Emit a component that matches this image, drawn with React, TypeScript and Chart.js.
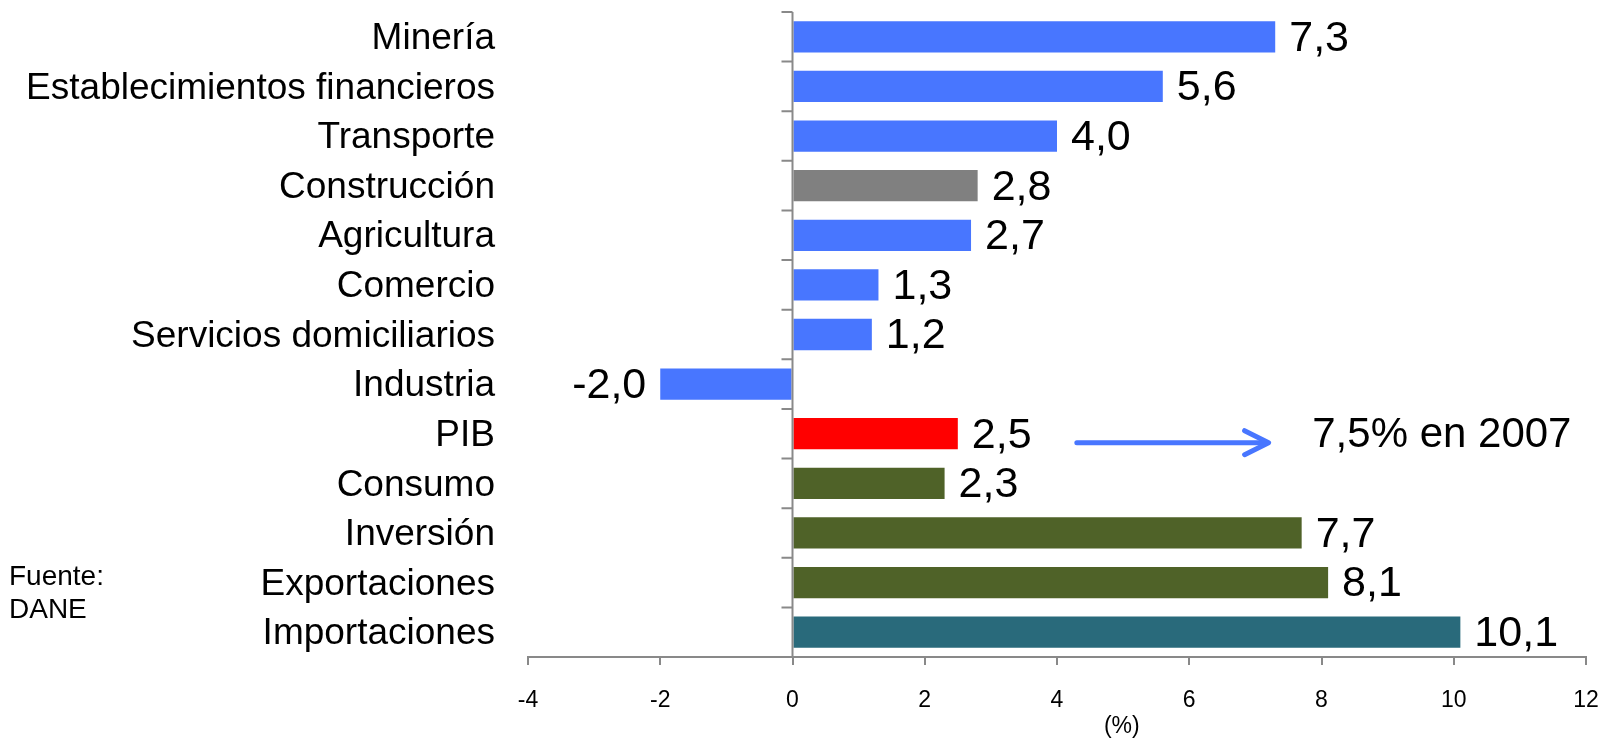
import { useEffect, useRef } from 'react';
import { Chart, registerables } from 'chart.js';

Chart.register(...registerables);

const categories = [
  'Minería',
  'Establecimientos financieros',
  'Transporte',
  'Construcción',
  'Agricultura',
  'Comercio',
  'Servicios domiciliarios',
  'Industria',
  'PIB',
  'Consumo',
  'Inversión',
  'Exportaciones',
  'Importaciones',
];
const values = [7.3, 5.6, 4.0, 2.8, 2.7, 1.3, 1.2, -2.0, 2.5, 2.3, 7.7, 8.1, 10.1];
const BLUE = '#4876FF';
const barColors = [
  BLUE, BLUE, BLUE, '#808080', BLUE, BLUE, BLUE, BLUE,
  '#FF0000', '#4F6228', '#4F6228', '#4F6228', '#296A7B',
];
const xMin = -4;
const xMax = 12;
const xStep = 2;
const axisTitle = '(%)';
const annotationText = '7,5% en 2007';
const annotationCategory = 'PIB';
const sourceLines = ['Fuente:', 'DANE'];

const FONT = '"Liberation Sans", Arial, sans-serif';
const AXIS_COLOR = '#898989';

const fmt = (v: number) => v.toFixed(1).replace('.', ',');

const overlayPlugin = {
  id: 'overlay',
  afterDatasetsDraw(chart: any) {
    const { ctx, chartArea, scales } = chart;
    const x = scales.x;
    const y = scales.y;
    const x0 = x.getPixelForValue(0);
    ctx.save();
    // vertical axis at zero with category-boundary ticks
    ctx.strokeStyle = AXIS_COLOR;
    ctx.lineWidth = 2;
    ctx.beginPath();
    ctx.moveTo(x0, chartArea.top);
    ctx.lineTo(x0, chartArea.bottom);
    const n = categories.length;
    const band = (chartArea.bottom - chartArea.top) / n;
    for (let k = 0; k < n; k++) {
      const yy = chartArea.top + k * band;
      ctx.moveTo(x0 - 11, yy);
      ctx.lineTo(x0, yy);
    }
    ctx.stroke();

    // category labels
    ctx.fillStyle = '#000';
    ctx.font = `37px ${FONT}`;
    ctx.textAlign = 'right';
    ctx.textBaseline = 'middle';
    categories.forEach((c, i) => {
      ctx.fillText(c, chartArea.left - 33, y.getPixelForValue(i) + 2);
    });

    // x tick labels
    ctx.font = `23px ${FONT}`;
    ctx.textAlign = 'center';
    x.ticks.forEach((t: any) => {
      ctx.fillText(String(t.value), x.getPixelForValue(t.value), chartArea.bottom + 44);
    });

    // data labels
    const meta = chart.getDatasetMeta(0);
    ctx.font = `43px ${FONT}`;
    meta.data.forEach((el: any, i: number) => {
      const v = values[i];
      if (v >= 0) {
        ctx.textAlign = 'left';
        ctx.fillText(fmt(v), el.x + 14, el.y + 2);
      } else {
        ctx.textAlign = 'right';
        ctx.fillText(fmt(v), el.x - 14, el.y + 2);
      }
    });

    // annotation arrow + text
    const idx = categories.indexOf(annotationCategory);
    const ay = y.getPixelForValue(idx) + 9;
    const ax1 = x.getPixelForValue(4.3);
    const ax2 = x.getPixelForValue(7.2);
    ctx.strokeStyle = BLUE;
    ctx.lineWidth = 5;
    ctx.lineCap = 'round';
    ctx.lineJoin = 'round';
    ctx.beginPath();
    ctx.moveTo(ax1, ay);
    ctx.lineTo(ax2 - 2, ay);
    ctx.stroke();
    ctx.beginPath();
    ctx.moveTo(ax2 - 24, ay - 12);
    ctx.lineTo(ax2, ay);
    ctx.lineTo(ax2 - 24, ay + 12);
    ctx.stroke();
    ctx.fillStyle = '#000';
    ctx.textAlign = 'left';
    ctx.font = `42px ${FONT}`;
    ctx.fillText(annotationText, x.getPixelForValue(7.86), ay - 7);

    // axis title
    ctx.font = `23px ${FONT}`;
    ctx.textAlign = 'center';
    ctx.fillText(axisTitle, x.getPixelForValue(4.98), chart.height - 11);

    // source
    ctx.font = `28px ${FONT}`;
    ctx.textAlign = 'left';
    ctx.textBaseline = 'alphabetic';
    sourceLines.forEach((s, i) => {
      ctx.fillText(s, 9, 585 + i * 33);
    });
    ctx.restore();
  },
};

export default function App() {
  const ref = useRef<HTMLCanvasElement | null>(null);
  useEffect(() => {
    if (!ref.current) return;
    const chart = new Chart(ref.current, {
      type: 'bar',
      data: {
        labels: categories,
        datasets: [
          {
            data: values,
            backgroundColor: barColors,
            borderWidth: 0,
            categoryPercentage: 1,
            barPercentage: 0.63,
          },
        ],
      },
      options: {
        indexAxis: 'y',
        animation: false,
        responsive: true,
        maintainAspectRatio: false,
        layout: { padding: { top: 12, right: 18, bottom: 0, left: 0 } },
        plugins: {
          legend: { display: false },
          tooltip: { enabled: false },
          title: { display: false },
        },
        scales: {
          x: {
            min: xMin,
            max: xMax,
            ticks: {
              stepSize: xStep,
              display: false,
            },
            grid: {
              drawOnChartArea: false,
              drawTicks: true,
              tickLength: 8,
              color: AXIS_COLOR,
              lineWidth: 2,
            },
            border: { display: true, color: AXIS_COLOR, width: 2 },
            afterFit: (s: any) => {
              s.height = 81;
            },
          },
          y: {
            ticks: { display: false },
            grid: { display: false },
            border: { display: false },
            afterFit: (s: any) => {
              s.width = 528;
            },
          },
        },
      },
      plugins: [overlayPlugin],
    });
    return () => chart.destroy();
  }, []);
  return (
    <div style={{ position: 'fixed', left: 0, top: 0, width: 1604, height: 738, background: '#fff' }}>
      <canvas ref={ref} />
    </div>
  );
}
